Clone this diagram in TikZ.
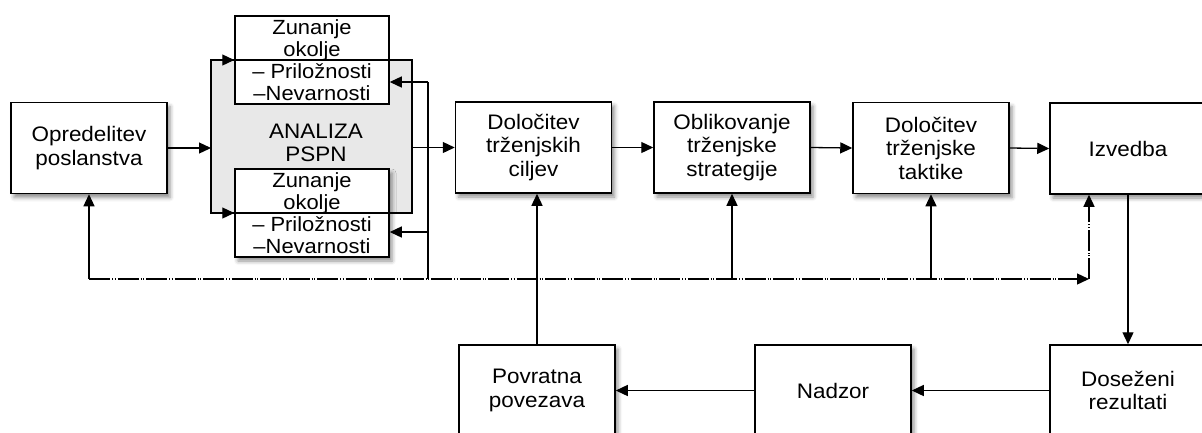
\documentclass[tikz,border=0pt]{standalone}
\usepackage{fontspec}
\setmainfont[FakeStretch=1.07]{Liberation Sans}
\usetikzlibrary{arrows.meta,shadows.blur}
\tikzset{
  basebox/.style={draw, line width=1.5pt, fill=white, align=center,
    inner sep=0pt, font=\fontsize{21}{23.5}\selectfont},
  withshadow/.style={blur shadow={shadow xshift=3pt, shadow yshift=-4pt,
    shadow blur radius=4pt, shadow opacity=45}},
  box/.style={basebox, withshadow, minimum width=156pt, minimum height=91pt},
  envbox/.style={basebox, minimum width=154pt, minimum height=88pt,
    font=\fontsize{20.5}{21.8}\selectfont},
  tip/.style={-{Triangle[length=12pt,width=11pt]}},
  conn/.style={line width=1.3pt, tip},
  plain/.style={line width=1.3pt},
  feedback/.style={line width=1.3pt, dash pattern=on 21pt off 2pt on 1pt off 1.5pt on 1pt off 2pt},
}
\begin{document}
\begin{tikzpicture}[x=1pt,y=-1pt]
\path[use as bounding box, clip] (0,0) rectangle (1202,432);

% mission
\node[box] (opr) at (89,148) {Opredelitev\\poslanstva};

% analysis block with its two environment boxes
\node[draw, line width=1.5pt, fill=gray!18, minimum width=201pt, minimum height=153pt, inner sep=0pt, outer sep=0pt] (pspn) at (311.5,136.5) {};
\node[font=\fontsize{21}{23.5}\selectfont, align=center] (pspntxt) at (316,143) {ANALIZA\\PSPN};
\node[envbox] (zt) at (312,60) {Zunanje\\okolje\\– Priložnosti\\–Nevarnosti};
\node[envbox, withshadow] (zb) at (312,213) {Zunanje\\okolje\\– Priložnosti\\–Nevarnosti};
\draw[line width=1.5pt] (pspn.north west) rectangle (pspn.south east);

% main chain
\node[box] (cil) at (533.5,147.5) {Določitev\\trženjskih\\ciljev};
\node[box] (ob) at (732,147.5) {Oblikovanje\\trženjske\\strategije};
\node[box] (tak) at (931,148) {Določitev\\trženjske\\taktike};
\node[box] (izv) at (1128,148.5) {Izvedba};

% bottom row
\node[box] (pov) at (537,390.5) {Povratna\\povezava};
\node[box] (nad) at (833,390.5) {Nadzor};
\node[box] (dos) at (1128,390.5) {Doseženi\\rezultati};

% junction points
\coordinate (ja) at (428,82);
\coordinate (jb) at (428,232);
\coordinate (jc) at (428,279);
\coordinate (fl) at (89,279);
\coordinate (fr) at (1089,279);
\coordinate (fo) at (732,279);
\coordinate (ft) at (931,279);

% forward arrows
\draw[conn] (opr.east) -- (opr.east -| pspn.west);
\draw[conn] (pspn.north west) -- (pspn.north west -| zt.west);
\draw[conn] (pspn.south west) -- (pspn.south west -| zb.west);
\draw[conn] (cil.west -| pspn.east) -- (cil.west);
\draw[conn] (cil.east) -- (ob.west);
\draw[conn] (ob.east) -- (tak.west);
\draw[conn] (tak.east) -- (izv.west);
\draw[conn] (izv.south) -- (dos.north);
\draw[conn] (dos.west) -- (nad.east);
\draw[conn] (nad.west) -- (pov.east);
\draw[conn] (pov.north) -- (pov.north |- cil.south);

% feedback
\draw[plain] (ja) -- (jc);
\draw[conn] (ja) -- (ja -| zt.east);
\draw[conn] (jb) -- (jb -| zb.east);
\draw[feedback, tip] (fl) -- (fr);
\draw[feedback, tip] (fr) -- (fr |- izv.south);
\draw[conn] (fl) -- (opr.south);
\draw[conn] (fo) -- (ob.south);
\draw[conn] (ft) -- (tak.south);
\end{tikzpicture}
\end{document}
